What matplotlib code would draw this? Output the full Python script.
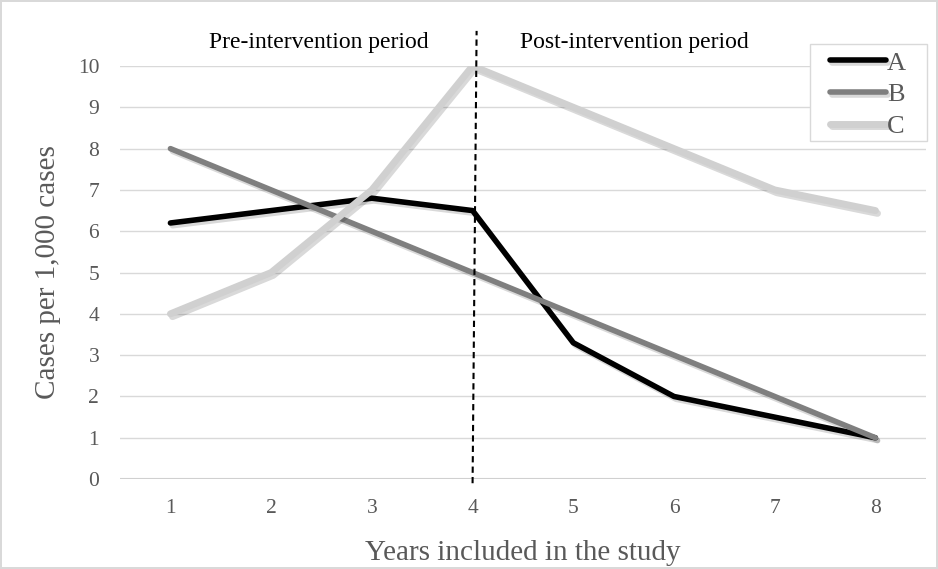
import matplotlib
matplotlib.use("Agg")
import matplotlib.pyplot as plt
import matplotlib.patheffects as pe
from matplotlib.patches import Rectangle

# values per study year
years = [1, 2, 3, 4, 5, 6, 7, 8]
series_a = [6.2, 6.5, 6.8, 6.5, 3.3, 2.0, 1.5, 1.0]
series_b = [8, 7, 6, 5, 4, 3, 2, 1]
series_c = [4, 5, 7, 10, 9, 8, 7, 6.5]
series_names = ["A", "B", "C"]
y_ticks = list(range(0, 11))
intervention_year = 4

plt.rcParams["font.family"] = ["Liberation Serif", "DejaVu Serif"]

fig = plt.figure(figsize=(9.38, 5.69), dpi=100)
fig.patch.set_edgecolor("#d9d9d9")
fig.patch.set_linewidth(1.5)
ax = fig.add_axes([0.128, 0.158, 0.859, 0.726])

shadow = [pe.SimpleLineShadow(offset=(1.5, -2), shadow_color="black", alpha=0.15),
          pe.Normal()]
styles = [("#000000", 4.0), ("#7f7f7f", 4.0), ("#d0d0d0", 5.0)]
for vals, name, (col, lw) in zip([series_a, series_b, series_c], series_names, styles):
    ax.plot(years, vals, color=col, lw=lw, label=name,
            solid_capstyle="round", solid_joinstyle="round",
            path_effects=shadow, zorder=3)

# intervention marker
ax.plot([intervention_year, intervention_year + 0.04], [-0.1, 10.85],
        color="black", lw=1.5, ls=(0, (3, 2)), clip_on=False, zorder=4)

ax.set_xlim(0.5, 8.5)
ax.set_ylim(0, 10)
ax.set_xticks(years)
ax.set_yticks(y_ticks)
ax.grid(axis="y", color="#d9d9d9", lw=1)
ax.axhline(0, color="#d0d0d0", lw=1.5, zorder=1)
ax.set_axisbelow(True)
for s in ax.spines.values():
    s.set_visible(False)
ax.tick_params(length=0, labelsize=15.5, labelcolor="#595959")
ax.tick_params(axis="y", pad=15)
ax.tick_params(axis="x", pad=14)

ax.set_xlabel("Years included in the study", fontsize=21, color="#595959", labelpad=16)
ax.set_ylabel("Cases per 1,000 cases", fontsize=21, color="#595959", labelpad=12)

ax.text(2.47, 10.57, "Pre-intervention period", ha="center", va="center",
        fontsize=17, color="black")
ax.text(5.61, 10.57, "Post-intervention period", ha="center", va="center",
        fontsize=17, color="black")

# legend box drawn separately so the side padding can be wider than the top/bottom
ax.add_patch(Rectangle((0.856, 0.818), 0.145, 0.235, transform=ax.transAxes,
                       facecolor="white", edgecolor="#d9d9d9", lw=1,
                       clip_on=False, zorder=5))
leg = ax.legend(loc="upper left", bbox_to_anchor=(0.881, 1.036), fontsize=19,
                handlelength=2.12, handletextpad=0.04, labelspacing=0.31,
                frameon=False, borderpad=0, borderaxespad=0)
leg.set_zorder(6)
for t in leg.get_texts():
    t.set_color("#595959")

fig.savefig("out.png", dpi=100)
